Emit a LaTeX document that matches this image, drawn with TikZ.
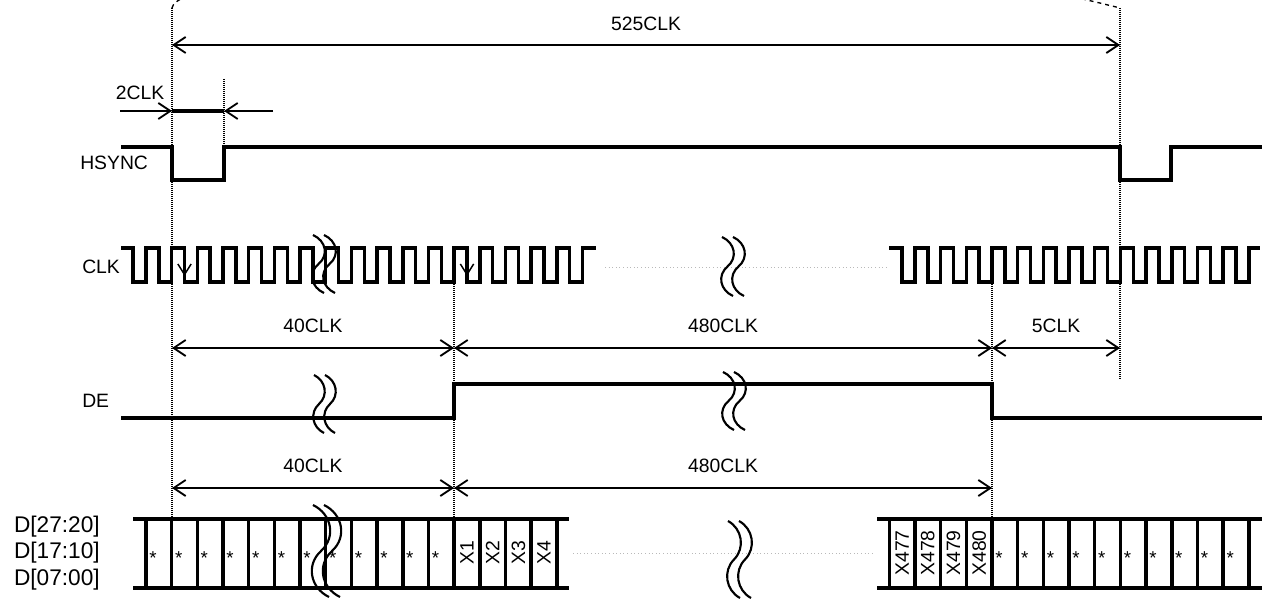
\documentclass[tikz,border=0pt]{standalone}
\usepackage{fontspec}
\setmainfont{Liberation Sans}
\usetikzlibrary{arrows.meta,positioning}
\definecolor{dotgray}{RGB}{185,185,185}

% break mark: two S curves (top x, top y, height, width)
\newcommand{\wavebreak}[4]{%
  \foreach \dx in {0,11}{
    \draw[brk] ({#1+\dx},#2)
      .. controls ({#1+\dx+1.18*#4},{#2+0.1*#3}) and ({#1+\dx+1.45*#4},{#2+0.35*#3})
      .. ({#1+\dx+0.5*#4},{#2+0.5*#3})
      .. controls ({#1+\dx-0.45*#4},{#2+0.65*#3}) and ({#1+\dx-0.18*#4},{#2+0.9*#3})
      .. ({#1+\dx+#4},{#2+#3});
  }}

\begin{document}
\begin{tikzpicture}[x=0.75pt,y=-0.75pt]

\tikzstyle{wave} = [line width=2.6pt, line join=miter]
\tikzstyle{guide} = [line width=1.8pt, dash pattern=on 0.75pt off 0.75pt]
\tikzstyle{dim} = [line width=1.4pt,
    {Straight Barb[length=9pt,width=12pt]}-{Straight Barb[length=9pt,width=12pt]}]
\tikzstyle{brk} = [line width=1.6pt]
\tikzstyle{lbl} = [font=\fontsize{14.5}{16}\selectfont, inner sep=0pt]
\tikzstyle{bus} = [font=\fontsize{17}{19}\selectfont, inner sep=0pt, anchor=east]
\tikzstyle{cell} = [font=\fontsize{14.5}{16}\selectfont, inner sep=0pt, rotate=90]
\tikzstyle{star} = [font=\fontsize{14}{16}\selectfont, inner sep=0pt, anchor=base]
\tikzstyle{gap} = [dotgray, line width=0.7pt, dotted]

\useasboundingbox (0,0) rectangle (1271,599);

% =========================
% guide lines
% =========================
\draw[guide] (172,8) -- (172,519);
\draw[guide] (224,79) -- (224,147);
\draw[guide] (454,282) -- (454,519);
\draw[guide] (992,282) -- (992,519);
\draw[guide] (1120,8) -- (1120,380);

\draw[dashed, line width=1pt] (172,8) .. controls (174,3) .. (184,-3);
\draw[dashed, line width=1pt] (1074,-3) .. controls (1100,3) .. (1120,8);

% =========================
% dimensions
% =========================
\coordinate (a525) at (172,45);
\coordinate (b525) at (1120,45);
\draw[dim] (a525) -- node[lbl, above=10pt] (t525) {525CLK} (b525);

\coordinate (a2) at (120,111);
\coordinate (b2) at (172,111);
\coordinate (c2) at (224,111);
\coordinate (d2) at (273,111);
\draw[line width=1.4pt, -{Straight Barb[length=9pt,width=12pt]}] (a2) -- (b2);
\draw[line width=1.4pt, -{Straight Barb[length=9pt,width=12pt]}] (d2) -- (c2);
\draw[line width=2.4pt] (b2) -- (c2);
\node[lbl] (t2) at (140,93) {2CLK};

\coordinate (a40) at (172,348);
\coordinate (b40) at (454,348);
\coordinate (c40) at (992,348);
\coordinate (d40) at (1120,348);
\draw[dim] (a40) -- node[lbl, above=11pt] (t40) {40CLK} (b40);
\draw[dim] (b40) -- node[lbl, above=11pt] (t480) {480CLK} (c40);
\draw[dim] (c40) -- node[lbl, above=11pt] (t5) {5CLK} (d40);

\coordinate (a41) at (172,488);
\coordinate (b41) at (454,488);
\coordinate (c41) at (992,488);
\coordinate (d41) at (1120,488);
\draw[dim] (a41) -- node[lbl, above=11pt] (t41) {40CLK} (b41);
\draw[dim] (b41) -- node[lbl, above=11pt] (t481) {480CLK} (c41);

% =========================
% signal names
% =========================
\node[lbl, anchor=west] (nhs) at (80,163) {HSYNC};
\node[lbl, anchor=west] (nclk) at (82,267) {CLK};
\node[lbl, anchor=west] (nde) at (82,401) {DE};
\node[bus] (nd2) at (100,527) {D[27:20]};
\node[bus] (nd1) at (100,553) {D[17:10]};
\node[bus] (nd0) at (100,580) {D[07:00]};

% =========================
% HSYNC
% =========================
\draw[wave] (121,147) -- (172,147) -- (172,180) -- (224,180) -- (224,147)
  -- (1120,147) -- (1120,180) -- (1171,180) -- (1171,147) -- (1262,147);

% =========================
% CLK
% =========================
\draw[wave] (121,248) \foreach \k in {0,...,17}{
  -- ({133.16+25.68*\k},248) -- ({133.16+25.68*\k},282)
  -- ({146+25.68*\k},282) -- ({146+25.68*\k},248)} -- (596,248);
\draw[wave] (889,248) \foreach \k in {0,...,13}{
  -- ({902.14+25.68*\k},248) -- ({902.14+25.68*\k},282)
  -- ({914.98+25.68*\k},282) -- ({914.98+25.68*\k},248)} -- (1260,248);
\draw[gap] (605,267) -- (888,267);

\draw[line width=1.1pt, -{Straight Barb[length=8pt,width=10pt]}] (184.5,252) -- (184.5,276);
\draw[line width=1.1pt, -{Straight Barb[length=8pt,width=10pt]}] (467,252) -- (467,276);

% =========================
% DE
% =========================
\draw[wave] (121,418) -- (454,418) -- (454,384) -- (992,384) -- (992,418) -- (1262,418);

% =========================
% data bus
% =========================
\draw[wave] (133,519) -- (569,519);
\draw[wave] (133,588) -- (569,588);
\foreach \k in {0,...,16}
  \draw[wave] ({146+25.68*\k},519) -- ({146+25.68*\k},588);
\foreach \k in {0,...,11}
  \node[star] (sl\k) at ({153+25.68*\k},564) {*};
\foreach \k/\t in {12/X1,13/X2,14/X3,15/X4}
  \node[cell] (c\t) at ({158.84+25.68*\k},553) {\t};

\draw[wave] (877,519) -- (1262,519);
\draw[wave] (877,588) -- (1262,588);
\foreach \k in {0,...,14}
  \draw[wave] ({889.3+25.68*\k},519) -- ({889.3+25.68*\k},588);
\foreach \k/\t in {0/X477,1/X478,2/X479,3/X480}
  \node[cell] (c\t) at ({902.14+25.68*\k},553) {\t};
\foreach \k in {4,...,13}
  \node[star] (sr\k) at ({896.3+25.68*\k},564) {*};
\draw[gap] (573,553) -- (872,553);

% =========================
% breaks
% =========================
\wavebreak{313}{235}{58}{11}
\wavebreak{314}{375}{58}{10}
\wavebreak{313}{505}{92}{16}
\wavebreak{722}{237}{59}{11}
\wavebreak{723}{372}{58}{11}
\wavebreak{728}{521}{77}{12}

\end{tikzpicture}
\end{document}
